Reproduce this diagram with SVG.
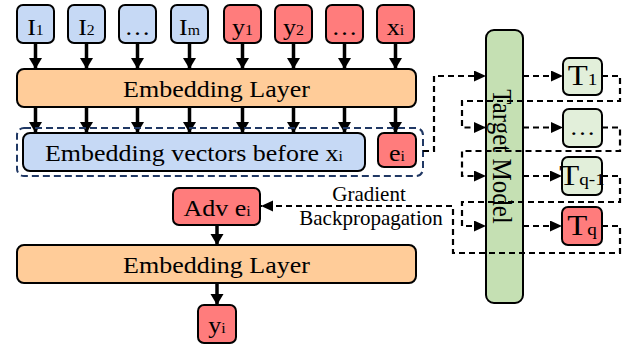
<svg xmlns="http://www.w3.org/2000/svg" width="633" height="347" viewBox="0 0 633 347">
<defs>
<style>
.bl{fill:#c6d9f5;stroke:#000;stroke-width:2}
.rd{fill:#ff7c7c;stroke:#000;stroke-width:2}
.or{fill:#ffcc99;stroke:#000;stroke-width:2}
.lg{fill:#e2efda;stroke:#000;stroke-width:2}
.gr{fill:#c5e0b3;stroke:#000;stroke-width:2}
text{font-family:"Liberation Serif","Times New Roman",serif;fill:#000;text-anchor:middle}
.t{font-size:23px}
.s{font-size:14px}
.T{font-size:29px}
.S{font-size:17px}
.g{font-size:21px}
.sol{stroke:#000;stroke-width:3.5;fill:none}
.dsh{stroke:#000;stroke-width:2.2;fill:none;stroke-dasharray:6,4}
</style>
<marker id="ah" markerUnits="userSpaceOnUse" markerWidth="12" markerHeight="14" refX="11" refY="6.5" orient="auto"><path d="M0,0 L11,6.5 L0,13 z" fill="#000"/></marker>
<marker id="ad" markerUnits="userSpaceOnUse" markerWidth="13" markerHeight="12" refX="12" refY="5.5" orient="auto"><path d="M0,0 L12,5.5 L0,11 z" fill="#000"/></marker>
</defs>
<rect width="633" height="347" fill="#fff"/>

<g id="connectors">
<g class="sol" marker-end="url(#ah)">
<line x1="35.5" y1="43" x2="35.5" y2="69"/>
<line x1="86.5" y1="43" x2="86.5" y2="69"/>
<line x1="137.5" y1="43" x2="137.5" y2="69"/>
<line x1="189.5" y1="43" x2="189.5" y2="69"/>
<line x1="242.5" y1="43" x2="242.5" y2="69"/>
<line x1="293.5" y1="43" x2="293.5" y2="69"/>
<line x1="344.5" y1="43" x2="344.5" y2="69"/>
<line x1="395.5" y1="43" x2="395.5" y2="69"/>
<line x1="35.5" y1="107" x2="35.5" y2="133"/>
<line x1="86.5" y1="107" x2="86.5" y2="133"/>
<line x1="137.5" y1="107" x2="137.5" y2="133"/>
<line x1="189.5" y1="107" x2="189.5" y2="133"/>
<line x1="242.5" y1="107" x2="242.5" y2="133"/>
<line x1="293.5" y1="107" x2="293.5" y2="133"/>
<line x1="344.5" y1="107" x2="344.5" y2="133"/>
<line x1="395.5" y1="107" x2="395.5" y2="133"/>
<line x1="217" y1="225" x2="217" y2="245"/>
<line x1="217" y1="283" x2="217" y2="305"/>
</g>
</g>

<g id="embed-group">
<rect x="17" y="128" width="406" height="48" rx="7" fill="none" stroke="#203864" stroke-width="2" stroke-dasharray="7,4"/>
</g>

<g id="n-I1"><rect class="bl" x="17" y="5" width="37" height="38" rx="6"/><text class="t" transform="translate(35.5,34.5) scale(1.13,1)">I<tspan class="s">1</tspan></text></g>
<g id="n-I2"><rect class="bl" x="68" y="5" width="37" height="38" rx="6"/><text class="t" transform="translate(86.5,34.5) scale(1.13,1)">I<tspan class="s">2</tspan></text></g>
<g id="n-Idots"><rect class="bl" x="119" y="5" width="37" height="38" rx="6"/><text class="t" transform="translate(137.5,34.5) scale(1.13,1)">…</text></g>
<g id="n-Im"><rect class="bl" x="171" y="5" width="37" height="38" rx="6"/><text class="t" transform="translate(189.5,34.5) scale(1.13,1)">I<tspan class="s">m</tspan></text></g>
<g id="n-y1"><rect class="rd" x="224" y="5" width="37" height="38" rx="6"/><text class="t" transform="translate(242.5,34.5) scale(1.13,1)">y<tspan class="s">1</tspan></text></g>
<g id="n-y2"><rect class="rd" x="275" y="5" width="37" height="38" rx="6"/><text class="t" transform="translate(293.5,34.5) scale(1.13,1)">y<tspan class="s">2</tspan></text></g>
<g id="n-ydots"><rect class="rd" x="326" y="5" width="37" height="38" rx="6"/><text class="t" transform="translate(344.5,34.5) scale(1.13,1)">…</text></g>
<g id="n-xi"><rect class="rd" x="377" y="5" width="37" height="38" rx="6"/><text class="t" transform="translate(395.5,34.5) scale(1.13,1)">x<tspan class="s">i</tspan></text></g>

<g id="n-embed1"><rect class="or" x="17" y="69" width="399" height="38" rx="7"/><text class="t" transform="translate(216.5,97) scale(1.13,1)">Embedding Layer</text></g>

<g id="n-vectors"><rect class="bl" x="23" y="133" width="342" height="38" rx="7"/><text class="t" transform="translate(194,160.7) scale(1.13,1)">Embedding vectors before x<tspan class="s">i</tspan></text></g>
<g id="n-ei"><rect class="rd" x="378" y="133" width="38" height="34" rx="6"/><text class="t" transform="translate(397,160.7) scale(1.13,1)">e<tspan class="s">i</tspan></text></g>

<g id="n-adv"><rect class="rd" x="173" y="188" width="87" height="37" rx="6"/><text class="t" transform="translate(217,216) scale(1.13,1)">Adv e<tspan class="s">i</tspan></text></g>

<g id="n-embed2"><rect class="or" x="17" y="245" width="399" height="38" rx="7"/><text class="t" transform="translate(216.5,272.7) scale(1.13,1)">Embedding Layer</text></g>

<g id="n-yi"><rect class="rd" x="198" y="305" width="38" height="38" rx="6"/><text class="t" transform="translate(217,333) scale(1.13,1)">y<tspan class="s">i</tspan></text></g>

<g id="n-target"><rect class="gr" x="486" y="30" width="37" height="273" rx="8"/><text class="t" style="font-size:25px" transform="translate(493,156.5) rotate(90) scale(1,1.13)">Target Model</text></g>

<g id="n-T1"><rect class="lg" x="563" y="58" width="39" height="37" rx="6"/><text class="T" transform="translate(582.5,85) scale(1.13,1)">T<tspan class="S">1</tspan></text></g>
<g id="n-Tdots"><rect class="lg" x="563" y="109" width="39" height="38" rx="6"/><text class="t" transform="translate(582.5,134.5) scale(1.13,1)">…</text></g>
<g id="n-Tq1"><rect class="lg" x="562" y="157" width="40" height="38" rx="6"/><text class="T" transform="translate(582,185) scale(1.13,1)">T<tspan class="S">q-1</tspan></text></g>
<g id="n-Tq"><rect class="rd" x="562" y="207" width="40" height="38" rx="6"/><text class="T" transform="translate(582,235) scale(1.13,1)">T<tspan class="S">q</tspan></text></g>

<g id="dashed-connectors" class="dsh">
<path d="M423,151 H434 V76 H486" marker-end="url(#ad)"/>
<path d="M523,76 H563" marker-end="url(#ad)"/>
<path d="M523,127.5 H563" marker-end="url(#ad)"/>
<path d="M523,176 H562" marker-end="url(#ad)"/>
<path d="M523,226 H562" marker-end="url(#ad)"/>
<path d="M602,76 H620 V101 H462 V127.5 H486" marker-end="url(#ad)"/>
<path d="M602,127.5 H620 V151 H462 V176 H486" marker-end="url(#ad)"/>
<path d="M602,176 H620 V202 H462 V226 H486" marker-end="url(#ad)"/>
<path d="M602,226 H620 V253 H453 V206 H261" marker-end="url(#ad)"/>
</g>

<g id="label-gradient">
<text class="g" x="369" y="200.5">Gradient</text>
<text class="g" x="371" y="224.5">Backpropagation</text>
</g>
</svg>
